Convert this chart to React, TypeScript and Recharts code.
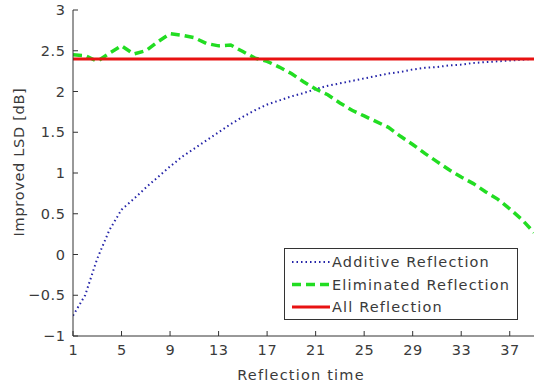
import { LineChart, Line, XAxis, YAxis, Legend } from "recharts";

const reflectionTimes = [
  1, 2, 3, 4, 5, 6, 7, 8, 9, 10, 11, 12, 13, 14, 15, 16, 17, 18, 19, 20,
  21, 22, 23, 24, 25, 26, 27, 28, 29, 30, 31, 32, 33, 34, 35, 36, 37, 38, 39,
];

const additiveReflection = [
  -0.75, -0.5, -0.05, 0.3, 0.55, 0.68, 0.82, 0.95, 1.08, 1.2, 1.3, 1.4, 1.5, 1.6,
  1.69, 1.77, 1.84, 1.89, 1.94, 1.98, 2.03, 2.07, 2.1, 2.13, 2.16, 2.19, 2.22,
  2.24, 2.27, 2.29, 2.3, 2.32, 2.33, 2.35, 2.36, 2.37, 2.38, 2.39, 2.4,
];

const eliminatedReflection = [
  2.45, 2.44, 2.37, 2.47, 2.56, 2.46, 2.5, 2.61, 2.71, 2.69, 2.66, 2.59, 2.56,
  2.57, 2.49, 2.41, 2.37, 2.3, 2.22, 2.12, 2.03, 1.96, 1.86, 1.77, 1.7, 1.63,
  1.56, 1.45, 1.35, 1.24, 1.14, 1.04, 0.95, 0.87, 0.77, 0.68, 0.56, 0.43, 0.27,
];

const allReflection = [
  2.4, 2.4, 2.4, 2.4, 2.4, 2.4, 2.4, 2.4, 2.4, 2.4, 2.4, 2.4, 2.4, 2.4, 2.4,
  2.4, 2.4, 2.4, 2.4, 2.4, 2.4, 2.4, 2.4, 2.4, 2.4, 2.4, 2.4, 2.4, 2.4, 2.4,
  2.4, 2.4, 2.4, 2.4, 2.4, 2.4, 2.4, 2.4, 2.4,
];

const xTicks = [1, 5, 9, 13, 17, 21, 25, 29, 33, 37];
const yTicks = [-1, -0.5, 0, 0.5, 1, 1.5, 2, 2.5, 3];

const seriesNames = ["Additive Reflection", "Eliminated Reflection", "All Reflection"];

const data = reflectionTimes.map((t, i) => ({
  t,
  additive: additiveReflection[i],
  eliminated: eliminatedReflection[i],
  all: allReflection[i],
}));

const FONT = '"DejaVu Sans", sans-serif';
const AXIS = "#333";
const TEXT = "#3a3a3a";
const BLUE = "#2323a8";
const GREEN = "#22dd22";
const RED = "#e81212";
const FS = 14.5;

const fmt = (v: number) => String(v).replace("-", "\u2212");

// ticks point inward on all four sides, like the matlab box
function BottomTick({ x, y, payload }: any) {
  return (
    <g>
      <line x1={x} y1={y} x2={x} y2={y - 5} stroke={AXIS} />
      <text x={x + 0.3} y={y + 19} textAnchor="middle" fill={TEXT} fontSize={FS} fontFamily={FONT} letterSpacing={0.6}>
        {fmt(payload.value)}
      </text>
    </g>
  );
}

function TopTick({ x, y }: any) {
  return <line x1={x} y1={y} x2={x} y2={y + 5} stroke={AXIS} />;
}

function LeftTick({ x, y, payload }: any) {
  return (
    <g>
      <line x1={x} y1={y} x2={x + 5} y2={y} stroke={AXIS} />
      <text x={x - 7.5} y={y} dy="0.36em" textAnchor="end" fill={TEXT} fontSize={FS} fontFamily={FONT} letterSpacing={0.6}>
        {fmt(payload.value)}
      </text>
    </g>
  );
}

function RightTick({ x, y }: any) {
  return <line x1={x} y1={y} x2={x - 5} y2={y} stroke={AXIS} />;
}

function LegendBox() {
  const rows = [
    { name: seriesNames[0], color: BLUE, dash: "1.5 3", width: 2 },
    { name: seriesNames[1], color: GREEN, dash: "9 5", width: 3.5 },
    { name: seriesNames[2], color: RED, dash: undefined, width: 3 },
  ];
  return (
    <svg width={235} height={73} style={{ display: "block" }}>
      <rect x={0.5} y={0.5} width={233} height={71} fill="#fff" stroke={AXIS} />
      {rows.map((r, i) => {
        const cy = 14 + i * 22.5;
        return (
          <g key={r.name}>
            <line x1={8} y1={cy} x2={46} y2={cy} stroke={r.color} strokeWidth={r.width} strokeDasharray={r.dash} />
            <text x={48} y={cy} dy="0.36em" fill={TEXT} fontSize={FS} fontFamily={FONT} letterSpacing={1.15}>
              {r.name}
            </text>
          </g>
        );
      })}
    </svg>
  );
}

export default function App() {
  return (
    <div style={{ position: "absolute", left: 0, top: 0, background: "#fff" }}>
      <LineChart width={534} height={387} data={data} margin={{ top: 10, right: 0, bottom: 0, left: 0 }}>
        <XAxis
          dataKey="t"
          type="number"
          domain={[1, 39]}
          ticks={xTicks}
          allowDataOverflow
          height={51}
          tickSize={0}
          tickMargin={0}
          tickLine={false}
          axisLine={{ stroke: AXIS }}
          tick={<BottomTick />}
          interval={0}
          label={() => (
            <text x={301} y={380} textAnchor="middle" fill={TEXT} fontSize={FS} fontFamily={FONT} letterSpacing={1.2}>
              Reflection time
            </text>
          )}
        />
        <XAxis
          xAxisId="top"
          orientation="top"
          type="number"
          domain={[1, 39]}
          ticks={xTicks}
          height={0}
          tickSize={0}
          tickMargin={0}
          tickLine={false}
          axisLine={{ stroke: AXIS }}
          tick={<TopTick />}
          interval={0}
        />
        <YAxis
          type="number"
          domain={[-1, 3]}
          ticks={yTicks}
          allowDataOverflow
          width={73}
          tickSize={0}
          tickMargin={0}
          tickLine={false}
          axisLine={{ stroke: AXIS }}
          tick={<LeftTick />}
          interval={0}
          label={() => (
            <text
              x={19}
              y={162}
              transform="rotate(-90, 19, 162)"
              textAnchor="middle"
              dy="0.36em"
              fill={TEXT}
              fontSize={FS}
              fontFamily={FONT}
              letterSpacing={0.7}
            >
              Improved LSD [dB]
            </text>
          )}
        />
        <YAxis
          yAxisId="right"
          orientation="right"
          type="number"
          domain={[-1, 3]}
          ticks={yTicks}
          width={0}
          tickSize={0}
          tickMargin={0}
          tickLine={false}
          axisLine={{ stroke: AXIS }}
          tick={<RightTick />}
          interval={0}
        />
        <Legend
          layout="vertical"
          align="center"
          verticalAlign="middle"
          wrapperStyle={{ position: "absolute", left: 284, top: 248, width: 235, height: 73 }}
          content={() => <LegendBox />}
        />
        <Line
          dataKey="additive"
          name={seriesNames[0]}
          type="linear"
          stroke={BLUE}
          strokeWidth={2}
          strokeDasharray="1.5 3"
          dot={false}
          isAnimationActive={false}
        />
        <Line
          dataKey="eliminated"
          name={seriesNames[1]}
          type="linear"
          stroke={GREEN}
          strokeWidth={3.5}
          strokeDasharray="9 5"
          dot={false}
          isAnimationActive={false}
        />
        <Line
          dataKey="all"
          name={seriesNames[2]}
          type="linear"
          stroke={RED}
          strokeWidth={3}
          dot={false}
          isAnimationActive={false}
        />
      </LineChart>
    </div>
  );
}
